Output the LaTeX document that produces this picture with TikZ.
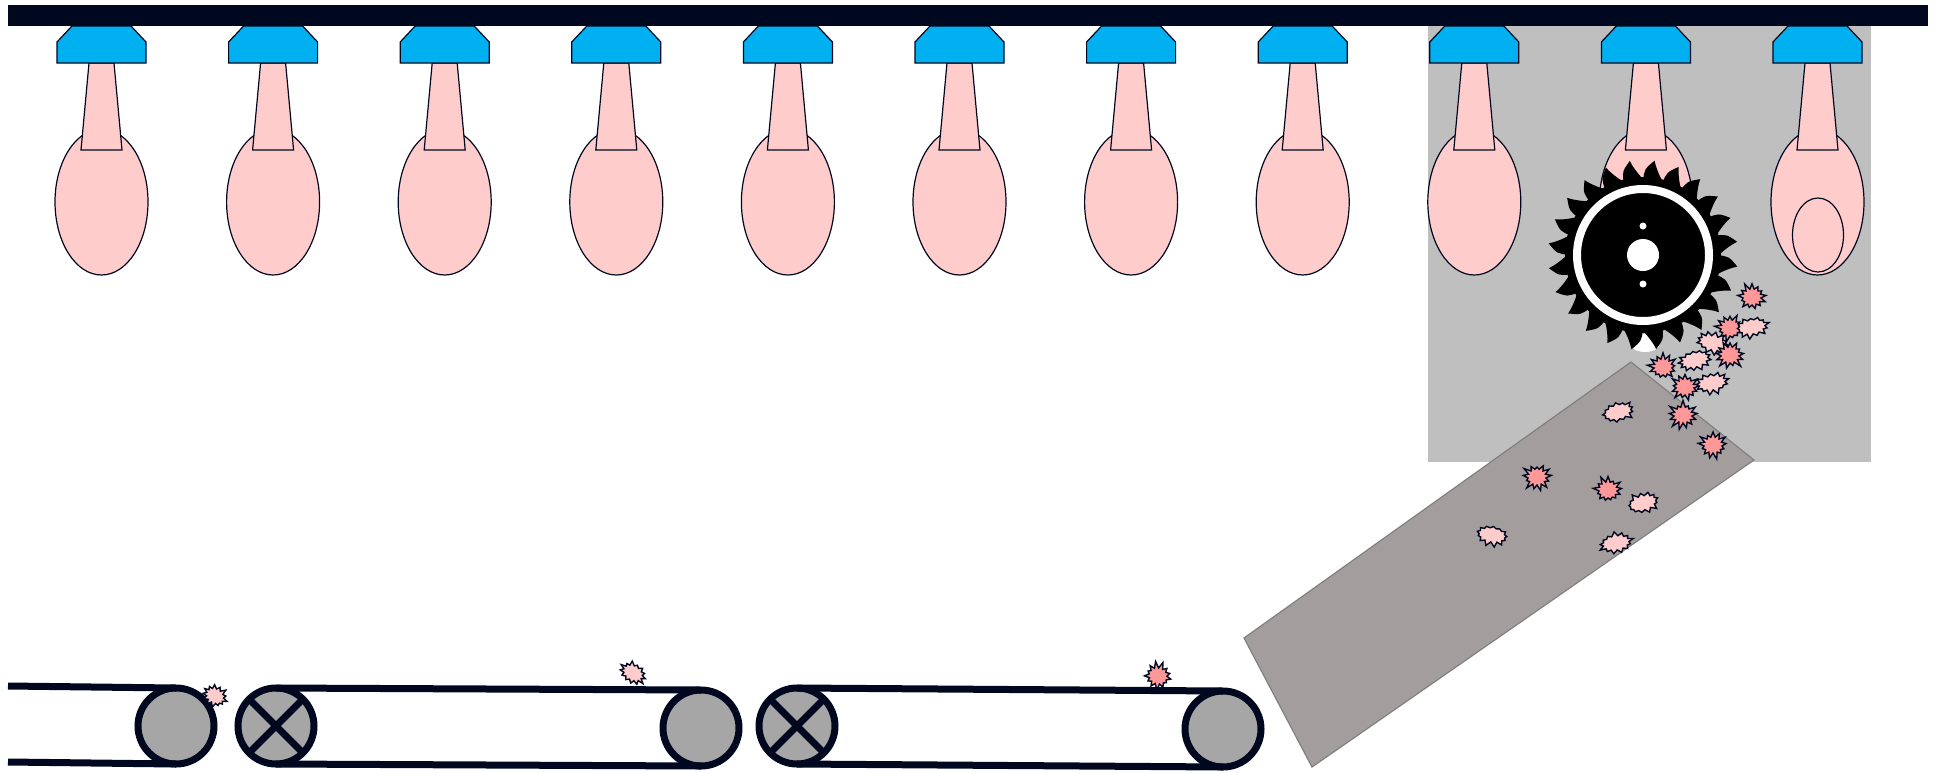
\documentclass[tikz,border=0pt]{standalone}
\usetikzlibrary{shapes.symbols}
\definecolor{navy}{RGB}{0,8,32}
\definecolor{capblue}{RGB}{0,176,240}
\definecolor{fleshpink}{RGB}{255,204,204}
\definecolor{chipred}{RGB}{255,153,153}
\definecolor{rollergray}{RGB}{166,166,166}
\definecolor{hoodgray}{RGB}{191,191,191}
\definecolor{chutegray}{RGB}{163,158,157}
\tikzset{
    capblock/.style={fill=capblue, draw=navy, line width=0.6pt},
    flesh/.style={fill=fleshpink, draw=navy, line width=0.6pt},
    chute/.style={fill=chutegray, draw=gray, line width=0.6pt},
    belt/.style={draw=navy, line width=3.5pt},
    roller/.style={circle, draw=navy, line width=3.5pt, fill=rollergray,
        minimum size=38pt, inner sep=0pt, outer sep=0pt},
    chip/.style={starburst, starburst points=13, random starburst=#1,
        draw=navy, line width=0.7pt, inner sep=0pt},
    redchip/.style={chip=#1, fill=chipred, starburst point height=3.5pt,
        minimum width=16pt, minimum height=15pt},
    palechip/.style={chip=#1, fill=fleshpink, starburst point height=2.5pt,
        minimum width=18pt, minimum height=12pt}
}

\begin{document}
\begin{tikzpicture}[x=0.5pt,y=-0.5pt]
    \useasboundingbox (0,0) rectangle (1940,772);
    % hood round the saw
    \fill[hoodgray] (1428,20) rectangle (1871,462);
    % overhead rail
    \fill[navy] (8,5) rectangle (1928,26);
    % hanging parts
    \foreach \i in {0,...,10}{
        \begin{scope}[shift={(101.5+171.6*\i,0)}]
            \draw[flesh] (0,202) ellipse [x radius=46.5, y radius=73];
            \draw[flesh] (-12.5,63) -- (12.5,63) -- (20.5,150) -- (-20.5,150) -- cycle;
            \draw[capblock] (-29.5,26) -- (29.5,26) -- (44.5,42) -- (44.5,63)
                -- (-44.5,63) -- (-44.5,42) -- cycle;
        \end{scope}
    }
    \draw[flesh] (1818,235) ellipse [x radius=25.5, y radius=37];
    % chute
    \coordinate (ch1) at (1631,362);
    \coordinate (ch2) at (1754,460);
    \coordinate (ch3) at (1312,767);
    \coordinate (ch4) at (1244,638);
    \draw[chute] (ch1) -- (ch2) -- (ch3) -- (ch4) -- cycle;
    % saw blade
    \begin{scope}[shift={(1643,255)}]
        \fill[white] (2,88) ellipse [x radius=15, y radius=9];
        \fill[black] (0,0) circle [radius=78];
        \foreach \a in {0,15,...,345}
            \fill[black] (\a:74) .. controls ({\a+1}:86) .. ({\a+7}:95)
                .. controls ({\a+8}:90) and ({\a+11}:82) .. ({\a+15}:76) -- cycle;
        \draw[white, line width=4pt] (0,0) circle [radius=66];
        \fill[white] (0,0) circle [radius=16];
        \fill[white] (0,-29) circle [radius=3.5] (0,29) circle [radius=3.5];
    \end{scope}
    % conveyors
    \node[roller] (r1) at (176,726) {};
    \node[roller] (r2) at (276,726) {};
    \node[roller] (r3) at (701,728) {};
    \node[roller] (r4) at (797,726) {};
    \node[roller] (r5) at (1223,729) {};
    \coordinate (e1) at (8,686);
    \coordinate (e2) at (8,762);
    \draw[belt] (e1) -- (r1.north) (e2) -- (r1.south);
    \draw[belt] (r2.north) -- (r3.north) (r2.south) -- (r3.south);
    \draw[belt] (r4.north) -- (r5.north) (r4.south) -- (r5.south);
    \draw[belt] (r2.45) -- (r2.225) (r2.135) -- (r2.315);
    \draw[belt] (r4.45) -- (r4.225) (r4.135) -- (r4.315);
    % chips
    \node[redchip=11] (c1) at (1752,297) {};
    \node[redchip=12] (c2) at (1730,328) {};
    \node[palechip=13, rotate=10] (c3) at (1752,327) {};
    \node[palechip=14, rotate=-15] (c4) at (1713,343) {};
    \node[redchip=15] (c5) at (1730,355) {};
    \node[palechip=16, rotate=15] (c6) at (1695,360) {};
    \node[redchip=17] (c7) at (1663,367) {};
    \node[redchip=18] (c8) at (1685,387) {};
    \node[palechip=19, rotate=10] (c9) at (1712,383) {};
    \node[redchip=20] (c10) at (1683,415) {};
    \node[redchip=21] (c11) at (1713,445) {};
    \node[palechip=22, rotate=15] (c12) at (1618,412) {};
    \node[redchip=23] (c13) at (1537,477) {};
    \node[redchip=24] (c14) at (1608,490) {};
    \node[palechip=25, rotate=15] (c15) at (1643,503) {};
    \node[palechip=26, rotate=-10] (c16) at (1492,535) {};
    \node[palechip=27, rotate=10] (c17) at (1616,543) {};
    \node[palechip=28, rotate=-30, minimum width=14pt] (c18) at (215,696) {};
    \node[palechip=29, rotate=-30, minimum width=15pt] (c19) at (633,673) {};
    \node[redchip=30, rotate=-20] (c20) at (1158,676) {};
\end{tikzpicture}
\end{document}
